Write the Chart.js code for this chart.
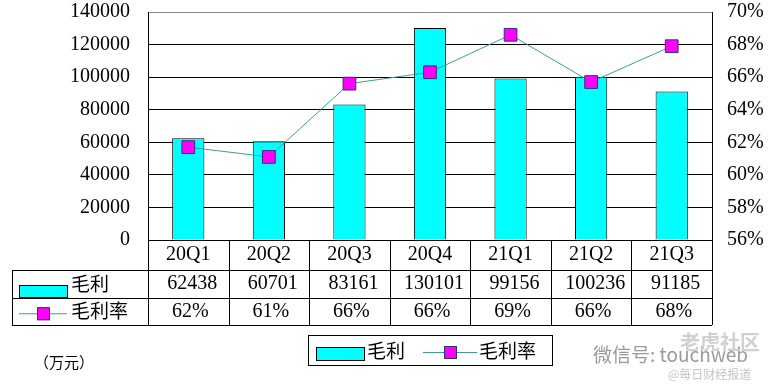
<!DOCTYPE html>
<html>
<head>
<meta charset="utf-8">
<script src="https://cdn.jsdelivr.net/npm/chart.js@4/dist/chart.umd.min.js"></script>
<style>
    body { margin: 0; background: #fff; }
    canvas { display: block; }
</style>
</head>
<body>
<canvas id="profitChart" width="773" height="389"></canvas>
<script>
const quarters = ['20Q1', '20Q2', '20Q3', '20Q4', '21Q1', '21Q2', '21Q3']
const grossProfit = [62438, 60701, 83161, 130101, 99156, 100236, 91185]
const grossMargin = [61.7, 61.1, 65.6, 66.3, 68.6, 65.7, 67.9]
const profitTicks = [0, 20000, 40000, 60000, 80000, 100000, 120000, 140000]
const marginTicks = [56, 58, 60, 62, 64, 66, 68, 70]

const profitLabel = '毛利'
const marginLabel = '毛利率'
const unitLabel = '（万元）'

const serif = "'Liberation Serif', 'DejaVu Serif', serif"
const cjk = "'Noto Sans CJK SC', sans-serif"
const barColor = '#00FFFF'
const lineColor = '#3C9C9C'
const markerColor = '#FF00FF'

const tablePlugin = {
    id: 'dataTable',
    afterDraw(chart) {
        const ctx = chart.ctx
        const xScale = chart.scales.x
        const area = chart.chartArea
        const colWidth = (area.right - area.left) / quarters.length
        const rowCat = area.bottom + 30
        const rowProfit = rowCat + 27.5
        const rowMargin = rowProfit + 27.5
        const tableLeft = 12

        ctx.save()
        ctx.strokeStyle = '#000'
        ctx.lineWidth = 1

        // horizontal rules
        ctx.beginPath()
        ;[rowCat, rowProfit, rowMargin].forEach(y => {
            ctx.moveTo(tableLeft, Math.round(y) + 0.5)
            ctx.lineTo(area.right, Math.round(y) + 0.5)
        })
        // vertical rules
        for (let i = 0; i <= quarters.length; i++) {
            const x = Math.round(area.left + i * colWidth) + 0.5
            ctx.moveTo(x, area.bottom)
            ctx.lineTo(x, rowMargin)
        }
        ctx.moveTo(tableLeft + 0.5, rowCat)
        ctx.lineTo(tableLeft + 0.5, rowMargin)
        ctx.stroke()

        ctx.fillStyle = '#000'
        ctx.textAlign = 'center'
        ctx.textBaseline = 'middle'
        ctx.font = `20px ${serif}`
        quarters.forEach((q, i) => {
            const cx = xScale.getPixelForValue(i)
            ctx.fillText(q, cx, (area.bottom + rowCat) / 2)
            ctx.fillText(String(grossProfit[i]), cx + 4, (rowCat + rowProfit) / 2)
            ctx.fillText(Math.round(grossMargin[i]) + '%', cx + 2, (rowProfit + rowMargin) / 2)
        })

        // row keys
        drawBarKey(ctx, 19, rowCat + 15, 48, 12)
        drawLineKey(ctx, 19, 67, (rowProfit + rowMargin) / 2 + 2)
        ctx.fillStyle = '#000'
        ctx.textAlign = 'left'
        ctx.font = `19px ${cjk}`
        ctx.fillText(profitLabel, 71, (rowCat + rowProfit) / 2)
        ctx.fillText(marginLabel, 71, (rowProfit + rowMargin) / 2)

        // unit
        ctx.font = `15px ${cjk}`
        ctx.fillText(unitLabel, 34, 362)

        // legend box
        ctx.strokeStyle = '#000'
        ctx.strokeRect(308.5, 335.5, 244, 30)
        drawBarKey(ctx, 316, 347, 48, 13)
        drawLineKey(ctx, 423, 477, 352)
        ctx.fillStyle = '#000'
        ctx.font = `19px ${cjk}`
        ctx.fillText(profitLabel, 367, 351)
        ctx.fillText(marginLabel, 479, 351)

        // watermark
        ctx.fillStyle = '#9a9a9a'
        ctx.font = `19px ${cjk}`
        ctx.fillText('微信号: touchweb', 593, 355)
        ctx.fillStyle = '#d0d0d0'
        ctx.font = `bold 20px ${cjk}`
        ctx.fillText('老虎社区', 680, 342)
        ctx.fillStyle = '#c4c4c4'
        ctx.font = `12px ${cjk}`
        ctx.fillText('@每日财经报道', 668, 374)
        ctx.restore()
    }
}

function drawBarKey(ctx, x, y, w, h) {
    ctx.fillStyle = barColor
    ctx.fillRect(x, y, w, h)
    ctx.strokeStyle = '#000'
    ctx.lineWidth = 1
    ctx.strokeRect(x + 0.5, y + 0.5, w, h)
}

function drawLineKey(ctx, x1, x2, y) {
    ctx.strokeStyle = lineColor
    ctx.lineWidth = 1
    ctx.beginPath()
    ctx.moveTo(x1, y + 0.5)
    ctx.lineTo(x2, y + 0.5)
    ctx.stroke()
    const mid = (x1 + x2) / 2
    ctx.fillStyle = markerColor
    ctx.fillRect(mid - 6, y - 6, 13, 13)
    ctx.strokeStyle = '#333366'
    ctx.strokeRect(mid - 6 + 0.5, y - 6 + 0.5, 12, 12)
}

function fitVertical(width) {
    return scale => {
        scale.width = width
        scale.paddingTop = 0
        scale.paddingBottom = 0
    }
}

new Chart(document.getElementById('profitChart'), {
    data: {
        labels: quarters,
        datasets: [
            {
                type: 'line',
                label: marginLabel,
                data: grossMargin,
                yAxisID: 'y1',
                borderColor: lineColor,
                borderWidth: 1,
                pointStyle: 'rect',
                pointRadius: 9,
                pointBackgroundColor: markerColor,
                pointBorderColor: '#333366',
                pointBorderWidth: 1,
                tension: 0,
                order: 0
            },
            {
                type: 'bar',
                label: profitLabel,
                data: grossProfit,
                yAxisID: 'y',
                backgroundColor: barColor,
                borderColor: '#000',
                borderWidth: 1,
                categoryPercentage: 1,
                barPercentage: 0.4,
                order: 1
            }
        ]
    },
    options: {
        responsive: false,
        animation: false,
        devicePixelRatio: 1,
        layout: { padding: { top: 12, left: 0, right: 0, bottom: 0 } },
        plugins: {
            legend: { display: false },
            tooltip: { enabled: false }
        },
        scales: {
            x: {
                grid: { display: false },
                border: { color: '#000' },
                ticks: { display: false },
                afterFit(scale) { scale.height = 149 }
            },
            y: {
                position: 'left',
                min: 0,
                max: 140000,
                afterBuildTicks(scale) { scale.ticks = profitTicks.map(v => ({ value: v })) },
                grid: {
                    color: ctx => ctx.tick && ctx.tick.value === 140000 ? '#888' : '#000',
                    lineWidth: 1,
                    drawTicks: false
                },
                border: { color: '#000' },
                ticks: {
                    color: '#000',
                    padding: 18,
                    font: { family: serif, size: 20 },
                    callback: value => String(value)
                },
                afterFit: fitVertical(148)
            },
            y1: {
                position: 'right',
                min: 56,
                max: 70,
                afterBuildTicks(scale) { scale.ticks = marginTicks.map(v => ({ value: v })) },
                grid: { display: false, drawTicks: false },
                border: { color: '#000' },
                ticks: {
                    color: '#000',
                    padding: 15,
                    font: { family: serif, size: 20 },
                    callback: value => value + '%'
                },
                afterFit: fitVertical(61)
            }
        }
    },
    plugins: [tablePlugin]
})
</script>
</body>
</html>
